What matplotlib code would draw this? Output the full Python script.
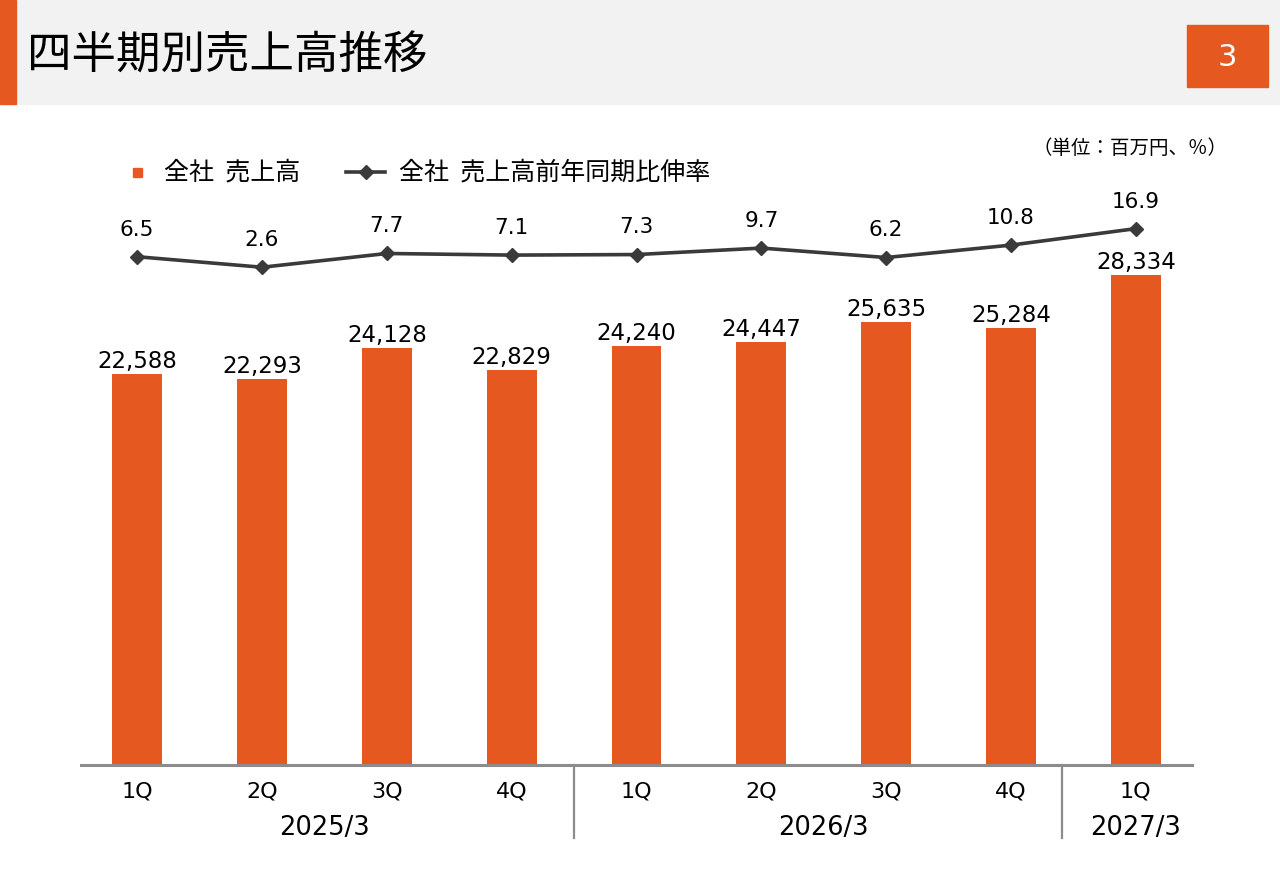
import matplotlib
matplotlib.use('Agg')
import matplotlib.pyplot as plt
from matplotlib.patches import Rectangle
from matplotlib.lines import Line2D

plt.rcParams['font.family'] = ['Noto Sans CJK JP', 'DejaVu Sans']

# ---- Datos ----
quarters = ['1Q', '2Q', '3Q', '4Q', '1Q', '2Q', '3Q', '4Q', '1Q']
years = ['2025/3', '2026/3', '2027/3']
year_sizes = [4, 4, 1]
sales = [22588, 22293, 24128, 22829, 24240, 24447, 25635, 25284, 28334]
growth = [6.5, 2.6, 7.7, 7.1, 7.3, 9.7, 6.2, 10.8, 16.9]

ORANGE = '#E5581F'
DARK = '#3A3A3A'
GRAY = '#8C8C8C'
W, H = 1280, 886


def fx(x):
    return x / W


def fy(y):
    return 1 - y / H


fig = plt.figure(figsize=(12.8, 8.86), dpi=100)

# ---- Cabecera ----
fig.patches.append(Rectangle((fx(16), fy(104)), 1 - fx(16), 104 / H,
                             transform=fig.transFigure, color='#F2F2F2', zorder=0))
fig.patches.append(Rectangle((0, fy(104)), fx(16), 104 / H,
                             transform=fig.transFigure, color=ORANGE, zorder=0))
fig.patches.append(Rectangle((fx(1187), fy(87)), fx(81), 62 / H,
                             transform=fig.transFigure, color=ORANGE, zorder=1))
fig.text(fx(27), fy(56), '四半期別売上高推移', fontsize=32, va='center', ha='left',
         color='black')
fig.text(fx(1227), fy(57), '3', fontsize=22, va='center', ha='center', color='white',
         family=['DejaVu Sans'])

# ---- Ejes ----
ax = fig.add_axes([fx(81), fy(765), fx(1192) - fx(81), (765 - 200) / H])
x = list(range(len(sales)))
ax.bar(x, sales, width=0.4, color=ORANGE, zorder=2)
ax.set_xlim(-0.45, 8.45)
ax.set_ylim(0, 32668)
for s in ['top', 'right', 'left']:
    ax.spines[s].set_visible(False)
ax.spines['bottom'].set_color(GRAY)
ax.spines['bottom'].set_linewidth(2.2)
ax.set_yticks([])
ax.set_xticks(x)
ax.set_xticklabels(quarters, fontsize=16, family=['DejaVu Sans'])
ax.tick_params(axis='x', length=0, pad=12)

for xi, v in zip(x, sales):
    ax.annotate(f'{v:,}', (xi, v), xytext=(0, 9), textcoords='offset points',
                ha='center', va='center', fontsize=16.5, family=['DejaVu Sans'])

ax2 = ax.twinx()
ax2.set_ylim(-181.7, 27.5)
ax2.axis('off')
ax2.plot(x, growth, color=DARK, lw=2.6, marker='D', markersize=7, zorder=3)
for xi, v in zip(x, growth):
    ax2.annotate(f'{v:.1f}', (xi, v), xytext=(0, 19.5), textcoords='offset points',
                 ha='center', va='center', fontsize=15.5, family=['DejaVu Sans'])

# ---- Etiquetas de año y separadores ----
px_per_unit = 565 / 32668
start = 0
for yr, n in zip(years, year_sizes):
    center = start + (n - 1) / 2
    ax.text(center, -63 / px_per_unit, yr, ha='center', va='center', fontsize=18.5,
            family=['DejaVu Sans'], clip_on=False)
    start += n
for xd in [3.5, 7.41]:
    ax.add_artist(Line2D([xd, xd], [0, -73 / px_per_unit], color=GRAY, lw=1.6,
                         clip_on=False))

# ---- Leyenda ----
fig.add_artist(Rectangle((fx(133), fy(177)), fx(9), 9 / H, transform=fig.transFigure,
                         color=ORANGE))
fig.text(fx(164), fy(172), '全社  売上高', fontsize=18, va='center', ha='left')
fig.add_artist(Line2D([fx(346), fx(385)], [fy(172), fy(172)], transform=fig.transFigure,
                      color=DARK, lw=2.6))
fig.add_artist(Line2D([fx(365.5)], [fy(172)], transform=fig.transFigure,
                      color=DARK, marker='D', markersize=7, lw=0))
fig.text(fx(399), fy(172), '全社  売上高前年同期比伸率', fontsize=18, va='center', ha='left')

fig.text(fx(1228), fy(148), '（単位：百万円、％）', fontsize=14, va='center', ha='right')

fig.savefig('out.png', dpi=100)
